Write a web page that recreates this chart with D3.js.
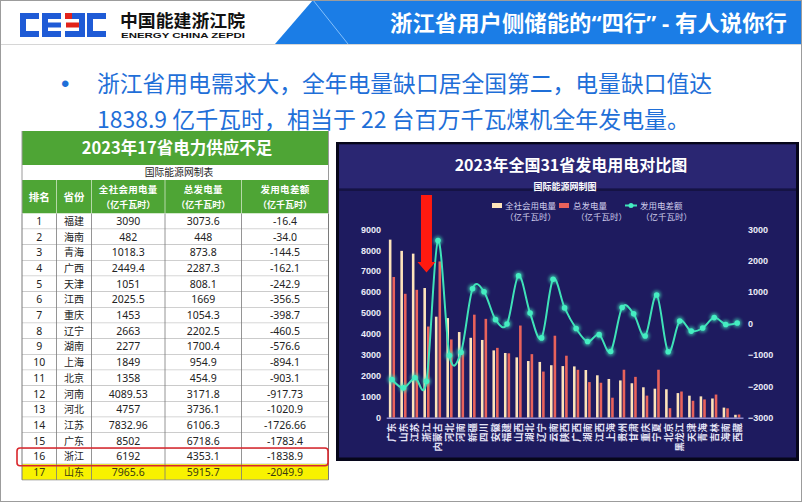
<!DOCTYPE html>
<html><head><meta charset="utf-8">
<script src="https://cdn.jsdelivr.net/npm/d3@7"></script>
<style>body{margin:0;background:#fff}svg{display:block}</style>
</head><body>
<svg id="c" width="802" height="502"></svg>
<script>
// ---------- table data ----------
const tableRanks = [1,2,3,4,5,6,7,8,9,10,11,12,13,14,15,16,17];
const tableProvinces = ["福建","海南","青海","广西","天津","江西","重庆","辽宁","湖南","上海","北京","河南","河北","江苏","广东","浙江","山东"];
const tableConsumption = ["3090","482","1018.3","2449.4","1051","2025.5","1453","2663","2277","1849","1358","4089.53","4757","7832.96","8502","6192","7965.6"];
const tableGeneration = ["3073.6","448","873.8","2287.3","808.1","1669","1054.3","2202.5","1700.4","954.9","454.9","3171.8","3736.1","6106.3","6718.6","4353.1","5915.7"];
const tableDifference = ["-16.4","-34.0","-144.5","-162.1","-242.9","-356.5","-398.7","-460.5","-576.6","-894.1","-903.1","-917.73","-1020.9","-1726.66","-1783.4","-1838.9","-2049.9"];

// ---------- chart data ----------
const provinces = ["广东","山东","江苏","浙江","内蒙古","河北","河南","新疆","四川","安徽","福建","山西","湖北","辽宁","云南","陕西","广西","湖南","江西","上海","贵州","甘肃","重庆","宁夏","北京","黑龙江","天津","青海","吉林","海南","西藏"];
const consumption = [8502,7965.6,7832.96,6192,4823,4757,4089.53,3815,3712,3214,3090,2880,2706,2663,2506,2465,2449.4,2277,2025.5,1849,1780,1645,1453,1385,1358,1175,1051,1018.3,918,482,140];
const generation  = [6718.6,5915.7,6106.3,4353.1,7460,3736.1,3171.8,4920,4720,3335,3073.6,4400,3035,2202.5,3915,2960,2287.3,1700.4,1669,954.9,2290,1950,1054.3,2290,454.9,1250,808.1,873.8,1105,448,152];
const difference  = [-1783.4,-2049.9,-1726.66,-1838.9,2637,-1020.9,-917.73,1105,1008,121,-16.4,1520,329,-460.5,1409,495,-162.1,-576.6,-356.5,-894.1,510,305,-398.7,905,-903.1,75,-242.9,-144.5,187,-34,12];
const leftTicks = [0,1000,2000,3000,4000,5000,6000,7000,8000,9000];
const rightTicks = [-3000,-2000,-1000,0,1000,2000,3000];

const CJK = "'Noto Sans CJK SC','Noto Sans',sans-serif";
const LAT = "'Noto Sans','Liberation Sans',sans-serif";
const svg = d3.select("#c");

// ---------- slide frame & header ----------
svg.append("rect").attr("x",0).attr("y",0).attr("width",802).attr("height",502).attr("fill","#fff");
svg.append("path").attr("d","M313,0 L802,0 L802,44 L275,44 Z").attr("fill","#1b7de6");
svg.append("line").attr("x1",313).attr("y1",0).attr("x2",348).attr("y2",44).attr("stroke","#9fd0ff").attr("stroke-width",0.8);
svg.append("line").attr("x1",0).attr("y1",44.5).attr("x2",802).attr("y2",44.5).attr("stroke","#d6d6d6");
const ht = svg.append("text").attr("x",390).attr("y",31).attr("fill","#fff").attr("font-family",CJK)
  .attr("font-size",21.5).attr("font-weight",700).attr("textLength",397).attr("lengthAdjust","spacingAndGlyphs");
ht.append("tspan").text("浙江省用户侧储能的");
ht.append("tspan").attr("font-family",LAT).text("“");
ht.append("tspan").text("四行");
ht.append("tspan").attr("font-family",LAT).text("” - ");
ht.append("tspan").text("有人说你行");

// logo
const lg = svg.append("g");
const blue = "#1f5bd6", red = "#e2231a";
function cShape(x){ return `M${x+19},13 L${x},13 L${x},37 L${x+19},37 L${x+19},31 L${x+6},31 L${x+6},19 L${x+19},19 Z`; }
lg.append("path").attr("d",cShape(20)).attr("fill",blue);
lg.append("path").attr("d",cShape(42)).attr("fill",blue);
lg.append("rect").attr("x",48).attr("y",22.5).attr("width",13).attr("height",5).attr("fill",blue);
lg.append("path").attr("d","M65,13 L85,13 L85,37 L65,37 L65,31 L79,31 L79,19 L65,19 Z").attr("fill",blue);
lg.append("rect").attr("x",66).attr("y",22.5).attr("width",13).attr("height",5).attr("fill",red);
lg.append("rect").attr("x",65).attr("y",13).attr("width",7).attr("height",6).attr("fill",red);
lg.append("path").attr("d",cShape(87)).attr("fill",blue);
svg.append("text").attr("x",120).attr("y",27).attr("font-family",CJK).attr("font-size",17.5).attr("font-weight",700)
  .attr("fill","#111").attr("textLength",125).attr("lengthAdjust","spacingAndGlyphs").text("中国能建浙江院");
svg.append("text").attr("x",121).attr("y",38).attr("font-family","'Liberation Sans',Arial,sans-serif").attr("font-size",8).attr("font-weight",700)
  .attr("fill","#111").attr("textLength",124).attr("lengthAdjust","spacingAndGlyphs").text("ENERGY CHINA ZEPDI");

// bullet text
const bulletBlue = "#1f6fd8";
svg.append("text").attr("x",61).attr("y",92).attr("fill",bulletBlue).attr("font-size",24).attr("font-family","'Liberation Sans',sans-serif").text("•");
svg.append("text").attr("x",97).attr("y",92).attr("fill",bulletBlue).attr("font-family",CJK).attr("font-size",23)
  .attr("textLength",615).attr("lengthAdjust","spacingAndGlyphs")
  .text("浙江省用电需求大，全年电量缺口居全国第二，电量缺口值达");
svg.append("text").attr("x",97).attr("y",128).attr("fill",bulletBlue).attr("font-family",CJK).attr("font-size",23)
  .attr("textLength",593).attr("lengthAdjust","spacingAndGlyphs")
  .text("1838.9 亿千瓦时，相当于 22 台百万千瓦煤机全年发电量。");

// ---------- table ----------
const colX = [22,56.5,91.5,165,241.5,328.5];
const green = "#4ea535";
const tY0 = 131, tTitleH = 34, tSubH = 15, tHeadH = 33.5, rowH = 15.67;
const tg = svg.append("g");
tg.append("rect").attr("x",colX[0]).attr("y",tY0).attr("width",colX[5]-colX[0]).attr("height",tTitleH).attr("fill",green);
tg.append("text").attr("x",177).attr("y",tY0+23).attr("text-anchor","middle").attr("fill","#fff").attr("font-family",CJK)
  .attr("font-size",16.5).attr("font-weight",700).text("2023年17省电力供应不足");
tg.append("rect").attr("x",colX[0]).attr("y",tY0+tTitleH).attr("width",colX[5]-colX[0]).attr("height",tSubH).attr("fill","#fff");
tg.append("text").attr("x",179).attr("y",tY0+tTitleH+11).attr("text-anchor","middle").attr("fill","#222").attr("font-family",CJK)
  .attr("font-size",9.8).text("国际能源网制表");
const headY = tY0+tTitleH+tSubH;
tg.append("rect").attr("x",colX[0]).attr("y",headY).attr("width",colX[5]-colX[0]).attr("height",tHeadH).attr("fill",green);
const heads = [["排名"],["省份"],["全社会用电量","（亿千瓦时）"],["总发电量","（亿千瓦时）"],["发用电差额","（亿千瓦时）"]];
heads.forEach((h,i)=>{
  const cx = (colX[i]+colX[i+1])/2;
  if(h.length===1){
    tg.append("text").attr("x",cx).attr("y",headY+21).attr("text-anchor","middle").attr("fill","#fff")
      .attr("font-family",CJK).attr("font-size",10.5).attr("font-weight",700).text(h[0]);
  } else {
    tg.append("text").attr("x",cx).attr("y",headY+13).attr("text-anchor","middle").attr("fill","#fff")
      .attr("font-family",CJK).attr("font-size",9.5).attr("font-weight",700).attr("letter-spacing",0.3).text(h[0]);
    tg.append("text").attr("x",cx).attr("y",headY+27.5).attr("text-anchor","middle").attr("fill","#fff")
      .attr("font-family",CJK).attr("font-size",9).attr("font-weight",700).text(h[1]);
  }
  if(i>0) tg.append("line").attr("x1",colX[i]).attr("x2",colX[i]).attr("y1",headY).attr("y2",headY+tHeadH).attr("stroke","#cfe6c6").attr("stroke-width",0.8);
});
const rowsY0 = headY + tHeadH;
const rowsData = tableRanks.map((r,i)=>[String(r),tableProvinces[i],tableConsumption[i],tableGeneration[i],tableDifference[i]]);
rowsData.forEach((row,i)=>{
  const y = rowsY0 + i*rowH;
  const last = i===rowsData.length-1;
  tg.append("rect").attr("x",colX[0]).attr("y",y).attr("width",colX[5]-colX[0]).attr("height",rowH)
    .attr("fill", last ? "#f8f200" : "#fff");
  row.forEach((v,j)=>{
    tg.append("text").attr("x",(colX[j]+colX[j+1])/2).attr("y",y+rowH/2+3.8).attr("text-anchor","middle")
      .attr("fill", last ? "#3a3a10" : "#222")
      .attr("font-family", j===1 ? CJK : LAT)
      .attr("font-size", j===1 ? 10 : 10.5).text(v);
  });
  tg.append("line").attr("x1",colX[0]).attr("x2",colX[5]).attr("y1",y+rowH).attr("y2",y+rowH).attr("stroke","#8a8a8a").attr("stroke-width",0.8);
});
const tableBottom = rowsY0 + rowsData.length*rowH;
colX.forEach((cx,i)=>{
  tg.append("line").attr("x1",cx).attr("x2",cx).attr("y1",rowsY0).attr("y2",tableBottom).attr("stroke","#7a7a7a").attr("stroke-width",i===0||i===5?1:0.8);
});
tg.append("line").attr("x1",colX[0]).attr("x2",colX[0]).attr("y1",tY0).attr("y2",rowsY0).attr("stroke","#9a9a9a");
tg.append("line").attr("x1",colX[5]).attr("x2",colX[5]).attr("y1",tY0).attr("y2",rowsY0).attr("stroke","#9a9a9a");
tg.append("rect").attr("x",17).attr("y",rowsY0+15*rowH-0.5).attr("width",311).attr("height",rowH+2).attr("rx",3)
  .attr("fill","none").attr("stroke","#d9262c").attr("stroke-width",1.6);

// ---------- chart panel ----------
const cg = svg.append("g");
cg.append("rect").attr("x",336).attr("y",142).attr("width",463).attr("height",319).attr("fill","#06061a");
cg.append("rect").attr("x",339).attr("y",144.5).attr("width",457).attr("height",313).attr("fill","#1e1b5f");
cg.append("rect").attr("x",339).attr("y",144.5).attr("width",457).attr("height",44).attr("fill","#2a2672");
cg.append("rect").attr("x",339).attr("y",188.5).attr("width",457).attr("height",2.5).attr("fill","#151344");
cg.append("text").attr("x",571).attr("y",171).attr("text-anchor","middle").attr("fill","#fff").attr("font-family",CJK)
  .attr("font-size",16).attr("font-weight",700).text("2023年全国31省发电用电对比图");
cg.append("text").attr("x",565).attr("y",190).attr("text-anchor","middle").attr("fill","#fff").attr("font-family",CJK)
  .attr("font-size",9).attr("font-weight",700).text("国际能源网制图");

const x = d3.scaleBand().domain(provinces).range([386.2, 743]);
const xs = d3.scaleBand().domain(["c","g"]).range([0, x.bandwidth()]).paddingInner(0.28).paddingOuter(0.74);
const yL = d3.scaleLinear().domain([0,9000]).range([417.7, 229.2]);
const yR = d3.scaleLinear().domain([-3000,3000]).range([417.7, 229.2]);

const axisTextColor = "#ecebf8";
const gL = cg.append("g").attr("transform","translate(383,0)")
  .call(d3.axisLeft(yL).tickValues(leftTicks).tickSize(0).tickPadding(2).tickFormat(d3.format("d")));
const gR = cg.append("g").attr("transform","translate(746,0)")
  .call(d3.axisRight(yR).tickValues(rightTicks).tickSize(0).tickPadding(2).tickFormat(d3.format("d")));
[gL,gR].forEach(g=>{
  g.select(".domain").remove();
  g.selectAll("text").attr("fill",axisTextColor).attr("font-family","'Liberation Sans',Arial,sans-serif")
    .attr("font-size",9).attr("font-weight",700);
});

const bars = cg.append("g");
bars.selectAll("rect.c").data(provinces).join("rect").attr("class","c")
  .attr("x",d=>x(d)+xs("c")).attr("width",xs.bandwidth())
  .attr("y",(d,i)=>yL(consumption[i])).attr("height",(d,i)=>yL(0)-yL(consumption[i]))
  .attr("fill","#fde4bb");
bars.selectAll("rect.g").data(provinces).join("rect").attr("class","g")
  .attr("x",d=>x(d)+xs("g")).attr("width",xs.bandwidth())
  .attr("y",(d,i)=>yL(generation[i])).attr("height",(d,i)=>yL(0)-yL(generation[i]))
  .attr("fill","#e8625b");

const gB = cg.append("g").attr("transform",`translate(0,${yL(0)})`)
  .call(d3.axisBottom(x).tickSize(0).tickFormat(""));
gB.select(".domain").attr("stroke","#8d89cc").attr("stroke-width",1.5);
cg.append("g").selectAll("text").data(provinces).join("text")
  .attr("transform",d=>`translate(${x(d)+x.bandwidth()/2},423) rotate(-90)`)
  .attr("text-anchor","end").attr("dy","0.36em")
  .attr("fill","#e4e3f6").attr("font-family",CJK).attr("font-size",9.5).attr("font-weight",700)
  .text(d=>d);

const defs = svg.append("defs");
const f = defs.append("filter").attr("id","glow").attr("x","-50%").attr("y","-50%").attr("width","200%").attr("height","200%");
f.append("feGaussianBlur").attr("stdDeviation",1.6);
const lineColor = "#3fe2b8";
const line = d3.line().x((d,i)=>x(provinces[i])+x.bandwidth()/2).y(d=>yR(d)).curve(d3.curveCardinal.tension(0));
cg.append("path").datum(difference).attr("d",line).attr("fill","none").attr("stroke",lineColor).attr("stroke-width",2);
cg.append("g").selectAll("circle").data(difference).join("circle")
  .attr("cx",(d,i)=>x(provinces[i])+x.bandwidth()/2).attr("cy",d=>yR(d)).attr("r",4.5)
  .attr("fill",lineColor).attr("opacity",0.6).attr("filter","url(#glow)");
cg.append("g").selectAll("circle").data(difference).join("circle")
  .attr("cx",(d,i)=>x(provinces[i])+x.bandwidth()/2).attr("cy",d=>yR(d)).attr("r",2.8)
  .attr("fill","#45eec2");

const ax = x("浙江")+x.bandwidth()/2;
cg.append("path").attr("d",`M${ax-5.5},195 L${ax+5.5},195 L${ax+5.5},262 L${ax+9},262 L${ax},272.5 L${ax-9},262 L${ax-5.5},262 Z`)
  .attr("fill","#ff1a10");

const legColor = "#cfcdec";
const lgd = cg.append("g").attr("font-family",CJK).attr("font-size",8.5).attr("fill",legColor);
lgd.append("rect").attr("x",492).attr("y",203).attr("width",10).attr("height",5).attr("fill","#fde4bb");
lgd.append("text").attr("x",505).attr("y",209).text("全社会用电量");
lgd.append("text").attr("x",505).attr("y",219.5).text("（亿千瓦时）");
lgd.append("rect").attr("x",559).attr("y",203).attr("width",10).attr("height",5).attr("fill","#e8625b");
lgd.append("text").attr("x",573).attr("y",209).text("总发电量");
lgd.append("text").attr("x",576).attr("y",219.5).text("（亿千瓦时）");
lgd.append("line").attr("x1",625).attr("x2",637).attr("y1",205.5).attr("y2",205.5).attr("stroke",lineColor).attr("stroke-width",2);
lgd.append("circle").attr("cx",631).attr("cy",205.5).attr("r",2.5).attr("fill","#45eec2");
lgd.append("text").attr("x",640).attr("y",209).text("发用电差额");
lgd.append("text").attr("x",641).attr("y",219.5).text("（亿千瓦时）");

svg.append("rect").attr("x",0.5).attr("y",0.5).attr("width",801).attr("height",501).attr("fill","none").attr("stroke","#9c9c9c");
</script>
</body></html>
